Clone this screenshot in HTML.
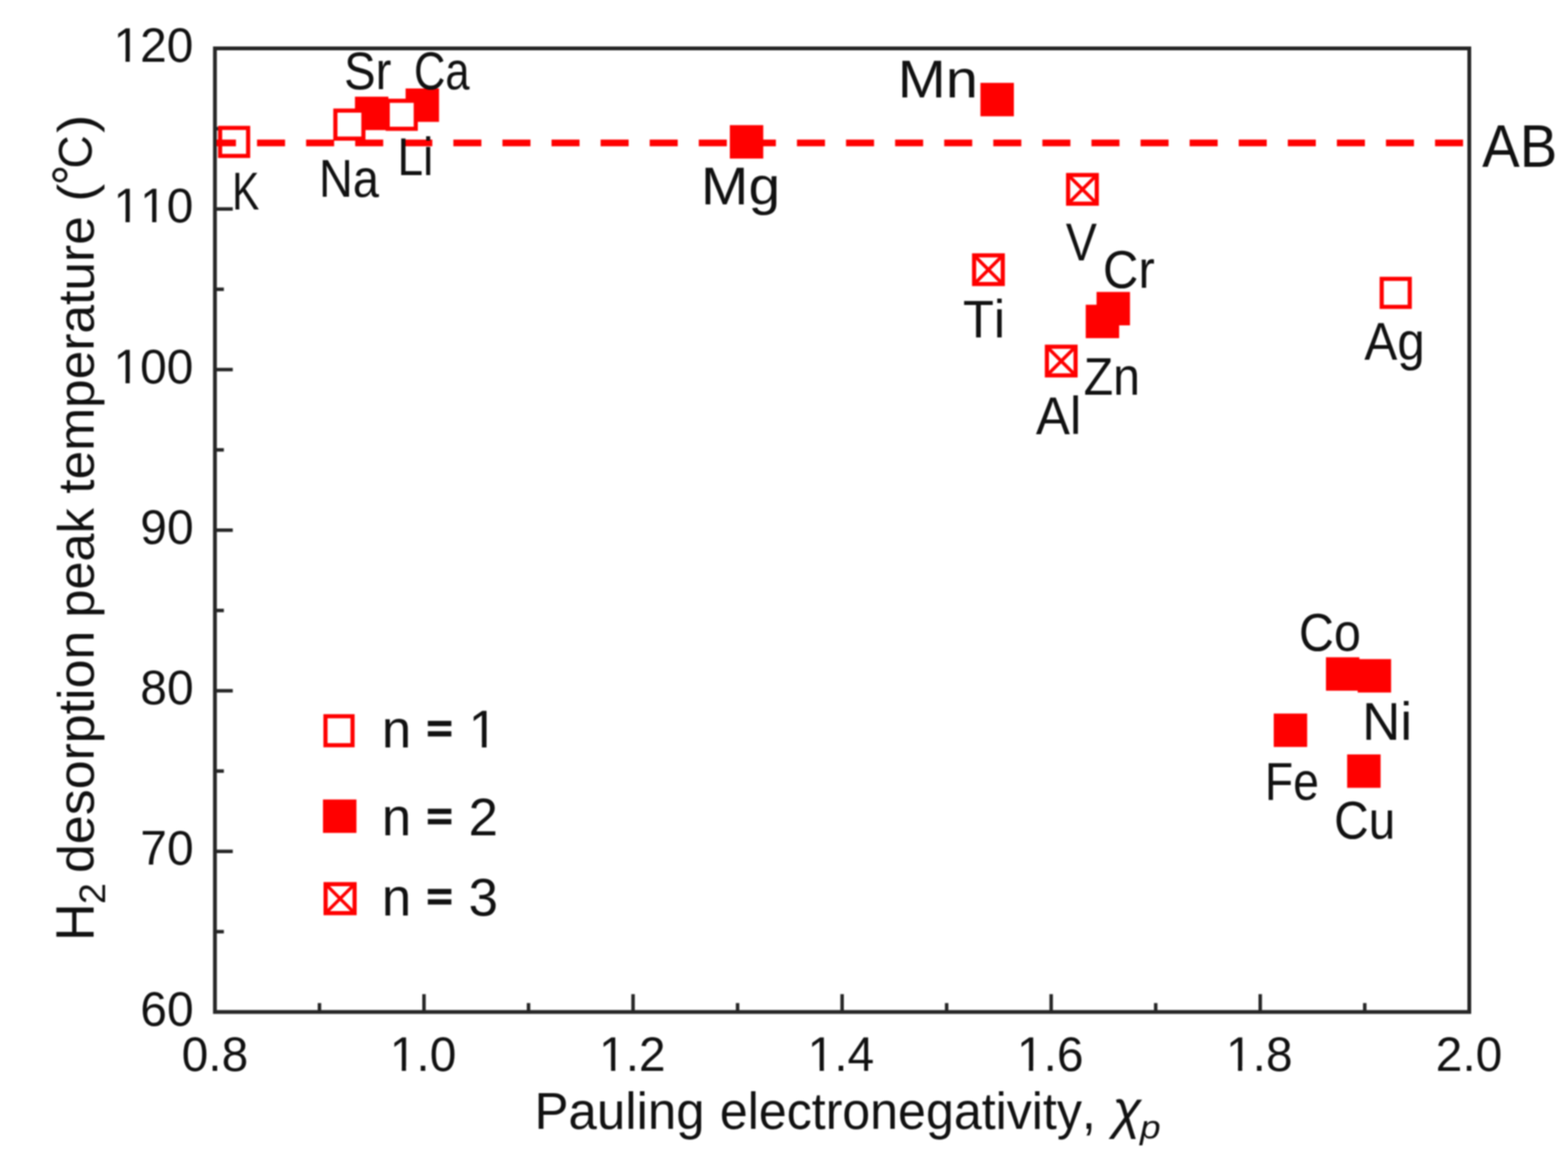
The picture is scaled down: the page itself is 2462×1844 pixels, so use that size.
<!DOCTYPE html>
<html><head><meta charset="utf-8"><title>H2 desorption peak temperature vs Pauling electronegativity</title>
<style>html,body{margin:0;padding:0;background:#fff;} svg{display:block;filter:blur(1.2px);} text{font-kerning:none;}</style></head>
<body><svg width="2462" height="1844" viewBox="0 0 2462 1844">
<rect width="2462" height="1844" fill="#fff"/>
<defs><clipPath id="c0" clipPathUnits="userSpaceOnUse"><path clip-rule="evenodd" d="M-100,-200H800V200H-100Z M5.00,-8.5H25.10V3H5.00Z M33.90,-8.5H54.00V3H33.90Z"/></clipPath><clipPath id="c1" clipPathUnits="userSpaceOnUse"><path clip-rule="evenodd" d="M-100,-200H800V200H-100Z M5.00,-8.5H25.10V3H5.00Z M33.90,-8.5H54.00V3H33.90Z M60.60,-8.5H80.70V3H60.60Z M89.50,-8.5H109.60V3H89.50Z"/></clipPath><clipPath id="c2" clipPathUnits="userSpaceOnUse"><path clip-rule="evenodd" d="M-100,-200H800V200H-100Z M5.00,-8.5H25.10V3H5.00Z M33.90,-8.5H54.00V3H33.90Z"/></clipPath><clipPath id="c3" clipPathUnits="userSpaceOnUse"><path clip-rule="evenodd" d="M-100,-200H800V200H-100Z M5.00,-8.5H25.10V3H5.00Z M33.90,-8.5H54.00V3H33.90Z"/></clipPath><clipPath id="c4" clipPathUnits="userSpaceOnUse"><path clip-rule="evenodd" d="M-100,-200H800V200H-100Z M5.00,-8.5H25.10V3H5.00Z M33.90,-8.5H54.00V3H33.90Z"/></clipPath><clipPath id="c5" clipPathUnits="userSpaceOnUse"><path clip-rule="evenodd" d="M-100,-200H800V200H-100Z M5.00,-8.5H25.10V3H5.00Z M33.90,-8.5H54.00V3H33.90Z"/></clipPath><clipPath id="c6" clipPathUnits="userSpaceOnUse"><path clip-rule="evenodd" d="M-100,-200H800V200H-100Z M5.00,-8.5H25.10V3H5.00Z M33.90,-8.5H54.00V3H33.90Z"/></clipPath><clipPath id="c7" clipPathUnits="userSpaceOnUse"><path clip-rule="evenodd" d="M-100,-200H800V200H-100Z M5.00,-8.5H25.10V3H5.00Z M33.90,-8.5H54.00V3H33.90Z"/></clipPath><clipPath id="c8" clipPathUnits="userSpaceOnUse"><path clip-rule="evenodd" d="M-100,-200H800V200H-100Z M5.00,-8.5H25.10V3H5.00Z M33.90,-8.5H54.00V3H33.90Z"/></clipPath></defs>
<g stroke="#262626" stroke-width="5.5" fill="none">
<line x1="337.5" y1="1463.38" x2="351.5" y2="1463.38"/>
<line x1="337.5" y1="1337.25" x2="365.5" y2="1337.25"/>
<line x1="337.5" y1="1211.12" x2="351.5" y2="1211.12"/>
<line x1="337.5" y1="1085.00" x2="365.5" y2="1085.00"/>
<line x1="337.5" y1="958.88" x2="351.5" y2="958.88"/>
<line x1="337.5" y1="832.75" x2="365.5" y2="832.75"/>
<line x1="337.5" y1="706.62" x2="351.5" y2="706.62"/>
<line x1="337.5" y1="580.50" x2="365.5" y2="580.50"/>
<line x1="337.5" y1="454.38" x2="351.5" y2="454.38"/>
<line x1="337.5" y1="328.25" x2="365.5" y2="328.25"/>
<line x1="337.5" y1="202.12" x2="351.5" y2="202.12"/>
<line x1="501.62" y1="1589.5" x2="501.62" y2="1575.5"/>
<line x1="665.75" y1="1589.5" x2="665.75" y2="1561.5"/>
<line x1="829.88" y1="1589.5" x2="829.88" y2="1575.5"/>
<line x1="994.00" y1="1589.5" x2="994.00" y2="1561.5"/>
<line x1="1158.12" y1="1589.5" x2="1158.12" y2="1575.5"/>
<line x1="1322.25" y1="1589.5" x2="1322.25" y2="1561.5"/>
<line x1="1486.38" y1="1589.5" x2="1486.38" y2="1575.5"/>
<line x1="1650.50" y1="1589.5" x2="1650.50" y2="1561.5"/>
<line x1="1814.63" y1="1589.5" x2="1814.63" y2="1575.5"/>
<line x1="1978.75" y1="1589.5" x2="1978.75" y2="1561.5"/>
<line x1="2142.88" y1="1589.5" x2="2142.88" y2="1575.5"/>
</g>
<rect x="337.5" y="76.0" width="1969.5" height="1513.5" stroke="#262626" stroke-width="6" fill="none"/>
<rect x="557.35" y="151.85" width="52.5" height="52.5" fill="#ff0000"/>
<rect x="636.85" y="138.95" width="52.5" height="52.5" fill="#ff0000"/>
<rect x="1145.95" y="196.55" width="52.5" height="52.5" fill="#ff0000"/>
<rect x="1539.45" y="130.15" width="52.5" height="52.5" fill="#ff0000"/>
<rect x="1704.75" y="478.65" width="52.5" height="52.5" fill="#ff0000"/>
<rect x="1721.75" y="458.55" width="52.5" height="52.5" fill="#ff0000"/>
<rect x="2081.95" y="1032.35" width="52.5" height="52.5" fill="#ff0000"/>
<rect x="2131.75" y="1035.25" width="52.5" height="52.5" fill="#ff0000"/>
<rect x="1999.95" y="1120.75" width="52.5" height="52.5" fill="#ff0000"/>
<rect x="2115.25" y="1184.95" width="52.5" height="52.5" fill="#ff0000"/>
<rect x="345.60" y="200.90" width="44.0" height="44.0" fill="#fff" stroke="#ff0000" stroke-width="6.5"/>
<rect x="526.60" y="173.70" width="44.0" height="44.0" fill="#fff" stroke="#ff0000" stroke-width="6.5"/>
<rect x="608.80" y="158.30" width="44.0" height="44.0" fill="#fff" stroke="#ff0000" stroke-width="6.5"/>
<rect x="2169.50" y="438.00" width="44.0" height="44.0" fill="#fff" stroke="#ff0000" stroke-width="6.5"/>
<g stroke="#ff0000"><rect x="1529.50" y="401.10" width="45.0" height="45.0" fill="#fff" stroke-width="6.5"/><path d="M1528.50,400.10L1575.50,447.10M1575.50,400.10L1528.50,447.10" stroke-width="5.3"/></g>
<g stroke="#ff0000"><rect x="1677.10" y="274.90" width="45.0" height="45.0" fill="#fff" stroke-width="6.5"/><path d="M1676.10,273.90L1723.10,320.90M1723.10,273.90L1676.10,320.90" stroke-width="5.3"/></g>
<g stroke="#ff0000"><rect x="1643.80" y="544.60" width="45.0" height="45.0" fill="#fff" stroke-width="6.5"/><path d="M1642.80,543.60L1689.80,590.60M1689.80,543.60L1642.80,590.60" stroke-width="5.3"/></g>
<line x1="340" y1="224.4" x2="2305" y2="224.4" stroke="#ff0000" stroke-width="10.5" stroke-dasharray="44 33.07" stroke-dashoffset="13.50"/>
<rect x="511.05" y="1125.00" width="42.5" height="45.5" fill="#fff" stroke="#ff0000" stroke-width="6.5"/>
<rect x="507.15" y="1255.75" width="52.5" height="52.5" fill="#ff0000"/>
<g stroke="#ff0000"><rect x="511.25" y="1388.75" width="45.5" height="45.5" fill="#fff" stroke-width="6.5"/><path d="M510.25,1387.75L557.75,1435.25M557.75,1387.75L510.25,1435.25" stroke-width="5.3"/></g>
<g fill="#111" font-family="Liberation Sans, sans-serif" font-size="100">
<text transform="translate(364.48,328.70) scale(0.6404,0.8400)">K</text>
<text transform="translate(500.79,309.10) scale(0.7383,0.8400)">Na</text>
<text transform="translate(540.28,140.20) scale(0.7430,0.8400)">Sr</text>
<text transform="translate(649.99,140.00) scale(0.6829,0.8400)">Ca</text>
<text transform="translate(623.90,275.20) scale(0.7254,0.8400)">Li</text>
<text transform="translate(1100.53,321.00) scale(0.8960,0.8400)">Mg</text>
<text transform="translate(1409.44,153.20) scale(0.9081,0.8400)">Mn</text>
<text transform="translate(1673.57,409.20) scale(0.7308,0.8400)">V</text>
<text transform="translate(1511.91,529.70) scale(0.7959,0.8400)">Ti</text>
<text transform="translate(1731.75,451.50) scale(0.7707,0.8400)">Cr</text>
<text transform="translate(1701.42,619.50) scale(0.7589,0.8400)">Zn</text>
<text transform="translate(1626.50,682.20) scale(0.8012,0.8400)">Al</text>
<text transform="translate(2142.20,565.40) scale(0.7759,0.8400)">Ag</text>
<text transform="translate(2039.59,1021.90) scale(0.7613,0.8400)">Co</text>
<text transform="translate(2138.85,1161.80) scale(0.8313,0.8400)">Ni</text>
<text transform="translate(1985.98,1255.90) scale(0.7279,0.8400)">Fe</text>
<text transform="translate(2094.64,1316.70) scale(0.7517,0.8400)">Cu</text>
<text transform="translate(2327.30,262.40) scale(0.8836,0.9540)">AB</text>
<text transform="translate(178.22,97.05) scale(0.7520,0.7520)" clip-path="url(#c0)">120</text>
<text transform="translate(178.22,349.30) scale(0.7520,0.7520)" clip-path="url(#c1)">110</text>
<text transform="translate(178.22,601.55) scale(0.7520,0.7520)" clip-path="url(#c2)">100</text>
<text transform="translate(220.34,853.80) scale(0.7520,0.7520)">90</text>
<text transform="translate(220.34,1106.05) scale(0.7520,0.7520)">80</text>
<text transform="translate(220.34,1358.30) scale(0.7520,0.7520)">70</text>
<text transform="translate(220.34,1610.55) scale(0.7520,0.7520)">60</text>
<text transform="translate(285.24,1681.55) scale(0.7520,0.7520)">0.8</text>
<text transform="translate(611.98,1681.55) scale(0.7520,0.7520)" clip-path="url(#c3)">1.0</text>
<text transform="translate(940.61,1682.30) scale(0.7520,0.7520)" clip-path="url(#c4)">1.2</text>
<text transform="translate(1268.11,1682.30) scale(0.7520,0.7520)" clip-path="url(#c5)">1.4</text>
<text transform="translate(1596.73,1681.55) scale(0.7520,0.7520)" clip-path="url(#c6)">1.6</text>
<text transform="translate(1924.98,1681.55) scale(0.7520,0.7520)" clip-path="url(#c7)">1.8</text>
<text transform="translate(2254.36,1681.55) scale(0.7520,0.7520)">2.0</text>
<text transform="translate(599.49,1174.10) scale(0.8300,0.8300)">n</text>
<text transform="translate(670.34,1166.05) scale(0.685,0.644)" stroke="#111" stroke-width="5.4">=</text>
<text transform="translate(735.8,1174.1) scale(0.83,0.83)" clip-path="url(#c8)">1</text>
<text transform="translate(599.49,1311.90) scale(0.8300,0.8300)">n</text>
<text transform="translate(670.34,1303.55) scale(0.685,0.644)" stroke="#111" stroke-width="5.4">=</text>
<text transform="translate(735.8,1311.9) scale(0.83,0.83)">2</text>
<text transform="translate(599.49,1438.40) scale(0.8300,0.8300)">n</text>
<text transform="translate(670.34,1430.35) scale(0.685,0.644)" stroke="#111" stroke-width="5.4">=</text>
<text transform="translate(735.8,1438.4) scale(0.83,0.83)">3</text>
<text transform="translate(839.19,1772.60) scale(0.8013,0.8178)">Pauling</text>
<text transform="translate(1130.15,1772.60) scale(0.7870,0.8178)">electronegativity,</text>
<text transform="translate(1746.83,1771.67) scale(0.8323,0.8253)" style="font-style:italic">χ</text>
<text transform="translate(1789.96,1788.35) scale(0.5815,0.5213)" style="font-style:italic">p</text>
</g>
<g fill="#111" font-family="Liberation Sans, sans-serif" font-size="100">
<text transform="translate(147.00,1477.96) rotate(-90) scale(0.8196,0.8500)">H</text>
<text transform="translate(164.50,1420.06) rotate(-90) scale(0.5913,0.5786)">2</text>
<text transform="translate(146.80,1371.26) rotate(-90) scale(0.8151,0.7900)">desorption</text>
<text transform="translate(146.80,970.05) rotate(-90) scale(0.7929,0.7900)">peak</text>
<text transform="translate(146.80,775.42) rotate(-90) scale(0.8084,0.7900)">temperature</text>
<text transform="translate(146.80,316.63) rotate(-90) scale(0.8385,0.8000)">(</text>
<text transform="translate(141.75,291.29) rotate(-90) scale(0.8143,0.8464)">°</text>
<text transform="translate(144.26,264.72) rotate(-90) scale(0.7238,0.7366)">C</text>
<text transform="translate(146.80,208.85) rotate(-90) scale(0.8538,0.8000)">)</text>
</g>
</svg></body></html>
